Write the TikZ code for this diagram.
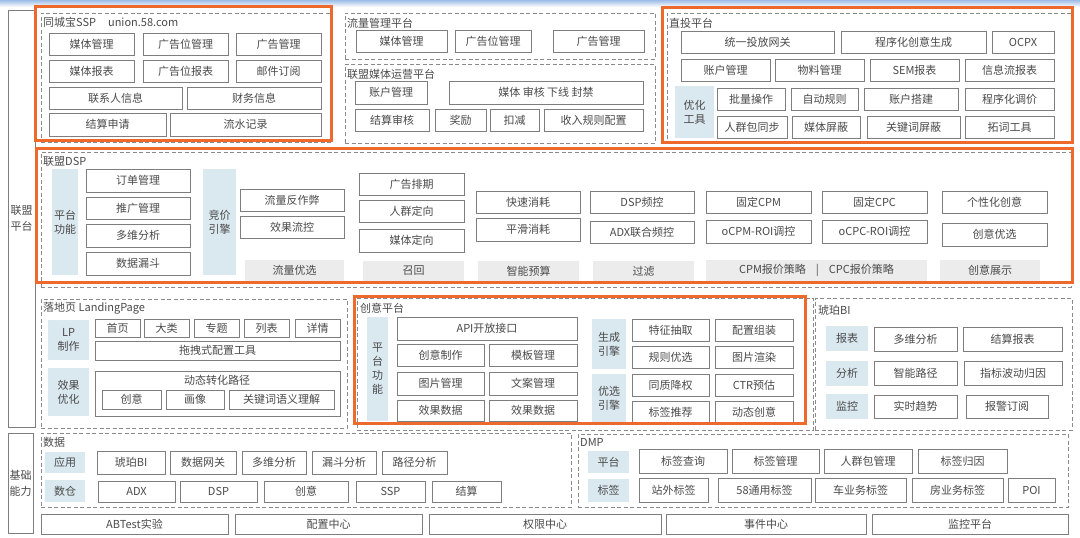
\documentclass[tikz,border=0pt]{standalone}
\usepackage{fontspec}
\setmainfont{Noto Sans CJK SC}
\definecolor{txt}{HTML}{4A4A4A}
\definecolor{boxgray}{HTML}{7E7E7E}
\definecolor{dgray}{HTML}{8A8A8A}
\definecolor{lblue}{HTML}{DAE8EF}
\definecolor{lgray}{HTML}{ECECEC}
\definecolor{orng}{HTML}{EE6A2C}
\definecolor{topblue}{HTML}{9DBDE6}
\newcommand\mk[7]{\node[#1, minimum width={#5pt-#3pt}, minimum height={#6pt-#4pt}] (#2) at ({(#3+#5)/2},{(#4+#6)/2}) {#7};}
\newcommand\ttl[4]{\node[ttlsty] (#1) at (#2,#3) {#4};}
\begin{document}
\begin{tikzpicture}[x=1pt,y=-1pt,
  box/.style={draw=boxgray, line width=0.9pt, fill=white, inner sep=0pt, outer sep=0pt, font=\fontsize{11}{14}\selectfont, text=txt, align=center},
  blue/.style={fill=lblue, inner sep=0pt, outer sep=0pt, font=\fontsize{11}{14}\selectfont, text=txt, align=center},
  gray/.style={fill=lgray, inner sep=0pt, outer sep=0pt, font=\fontsize{11}{14}\selectfont, text=txt, align=center},
  dbox/.style={draw=dgray, line width=0.9pt, dash pattern=on 4pt off 2.5pt, inner sep=0pt, outer sep=0pt},
  obox/.style={draw=orng, line width=3pt, inner sep=0pt, outer sep=0pt},
  frame/.style={draw=boxgray, line width=0.9pt, inner sep=0pt, outer sep=0pt, font=\fontsize{11}{16}\selectfont, text=txt, align=center},
  ttlsty/.style={anchor=west, inner sep=0pt, font=\fontsize{11}{13}\selectfont, text=txt},
  plain/.style={inner sep=0pt, font=\fontsize{11}{13}\selectfont, text=txt}]
\useasboundingbox (0,0) rectangle (1080,538);
\fill[white] (0,0) rectangle (1080,538);
\shade[top color=topblue, bottom color=white] (0,0) rectangle (1080,7);

% left frames
\mk{frame}{lm}{8}{10}{35}{427}{联盟\\平台}
\mk{frame}{jc}{8}{433}{33}{533}{基础\\能力}

% ===== SSP =====
\mk{dbox}{dssp}{41}{13}{332}{142}{}
\ttl{tssp}{43}{22}{同城宝SSP\hspace{12pt}union.58.com}
\mk{box}{s1}{49}{33}{134}{55}{媒体管理}
\mk{box}{s2}{143}{33}{228}{55}{广告位管理}
\mk{box}{s3}{236}{33}{321}{55}{广告管理}
\mk{box}{s4}{49}{60}{134}{82}{媒体报表}
\mk{box}{s5}{143}{60}{228}{82}{广告位报表}
\mk{box}{s6}{236}{60}{321}{82}{邮件订阅}
\mk{box}{s7}{49}{87}{182}{109}{联系人信息}
\mk{box}{s8}{187}{87}{321}{109}{财务信息}
\mk{box}{s9}{49}{113}{166}{136}{结算申请}
\mk{box}{s10}{170}{113}{321}{136}{流水记录}

% ===== 流量管理平台 =====
\mk{dbox}{dll}{345}{13}{655}{59}{}
\ttl{tll}{347}{23}{流量管理平台}
\mk{box}{ll1}{356}{30}{447}{52}{媒体管理}
\mk{box}{ll2}{455}{30}{531}{52}{广告位管理}
\mk{box}{ll3}{553}{30}{644}{52}{广告管理}

% ===== 联盟媒体运营平台 =====
\mk{dbox}{dyy}{345}{64}{655}{143}{}
\ttl{tyy}{347}{74}{联盟媒体运营平台}
\mk{box}{yy1}{355}{81}{427}{104}{账户管理}
\mk{box}{yy2}{449}{81}{643}{104}{媒体 审核 下线 封禁}
\mk{box}{yy3}{355}{109}{429}{131}{结算审核}
\mk{box}{yy4}{435}{109}{486}{131}{奖励}
\mk{box}{yy5}{490}{109}{539}{131}{扣减}
\mk{box}{yy6}{544}{109}{643}{131}{收入规则配置}

% ===== 直投平台 =====
\mk{dbox}{dzt}{667}{13}{1071}{142}{}
\ttl{tzt}{669}{23}{直投平台}
\mk{box}{z1}{681}{31}{834}{53}{统一投放网关}
\mk{box}{z2}{841}{31}{986}{53}{程序化创意生成}
\mk{box}{z3}{992}{31}{1054}{53}{OCPX}
\mk{box}{z4}{681}{59}{770}{81}{账户管理}
\mk{box}{z5}{775}{59}{864}{81}{物料管理}
\mk{box}{z6}{870}{59}{959}{81}{SEM报表}
\mk{box}{z7}{965}{59}{1054}{81}{信息流报表}
\mk{blue}{zb}{675}{86}{714}{138}{优化\\工具}
\mk{box}{z8}{717}{88}{785}{110}{批量操作}
\mk{box}{z9}{791}{88}{858}{110}{自动规则}
\mk{box}{z10}{864}{88}{958}{110}{账户搭建}
\mk{box}{z11}{965}{88}{1054}{110}{程序化调价}
\mk{box}{z12}{717}{116}{787}{138}{人群包同步}
\mk{box}{z13}{792}{116}{860}{138}{媒体屏蔽}
\mk{box}{z14}{867}{116}{960}{138}{关键词屏蔽}
\mk{box}{z15}{965}{116}{1054}{138}{拓词工具}

% ===== 联盟DSP =====
\mk{dbox}{ddsp}{41}{152}{1071}{287}{}
\ttl{tdsp}{43}{161}{联盟DSP}
\mk{blue}{db1}{52}{169}{78}{275}{平台\\功能}
\mk{box}{d1}{86}{169}{190}{192}{订单管理}
\mk{box}{d2}{86}{197}{190}{219}{推广管理}
\mk{box}{d3}{86}{224}{190}{247}{多维分析}
\mk{box}{d4}{86}{252}{190}{275}{数据漏斗}
\mk{blue}{db2}{203}{169}{236}{275}{竞价\\引擎}
\mk{box}{d5}{240}{189}{344}{211}{流量反作弊}
\mk{box}{d6}{240}{216}{344}{238}{效果流控}
\mk{gray}{g1}{245}{260}{344}{281}{流量优选}
\mk{box}{d7}{359}{173}{464}{195}{广告排期}
\mk{box}{d8}{359}{200}{464}{222}{人群定向}
\mk{box}{d9}{359}{229}{464}{252}{媒体定向}
\mk{gray}{g2}{363}{261}{464}{281}{召回}
\mk{box}{d10}{476}{191}{580}{213}{快速消耗}
\mk{box}{d11}{476}{218}{580}{241}{平滑消耗}
\mk{gray}{g3}{478}{261}{579}{281}{智能预算}
\mk{box}{d12}{590}{191}{694}{213}{DSP频控}
\mk{box}{d13}{590}{221}{694}{243}{ADX联合频控}
\mk{gray}{g4}{593}{261}{694}{281}{过滤}
\mk{box}{d14}{706}{191}{811}{213}{固定CPM}
\mk{box}{d15}{706}{220}{811}{243}{oCPM-ROI调控}
\mk{box}{d16}{822}{191}{927}{213}{固定CPC}
\mk{box}{d17}{822}{220}{927}{243}{oCPC-ROI调控}
\mk{gray}{g5}{706}{260}{927}{281}{CPM报价策略\hspace{10pt}|\hspace{10pt}CPC报价策略}
\mk{box}{d18}{942}{191}{1047}{213}{个性化创意}
\mk{box}{d19}{942}{223}{1047}{246}{创意优选}
\mk{gray}{g6}{940}{260}{1040}{281}{创意展示}

% ===== 落地页 =====
\mk{dbox}{dlp}{41}{299}{347}{428}{}
\ttl{tlp}{43}{308}{落地页 LandingPage}
\mk{blue}{lb1}{48}{320}{89}{360}{LP\\制作}
\mk{box}{l1}{95}{319}{140}{337}{首页}
\mk{box}{l2}{144}{319}{189}{337}{大类}
\mk{box}{l3}{194}{319}{239}{337}{专题}
\mk{box}{l4}{244}{319}{289}{337}{列表}
\mk{box}{l5}{295}{319}{340}{337}{详情}
\mk{box}{l6}{95}{341}{340}{360}{拖拽式配置工具}
\mk{blue}{lb2}{48}{368}{89}{416}{效果\\优化}
\mk{box}{l7}{95}{371}{340}{416}{}
\node[plain] (l7t) at (217,380) {动态转化路径};
\mk{box}{l8}{102}{390}{161}{409}{创意}
\mk{box}{l9}{166}{390}{224}{409}{画像}
\mk{box}{l10}{229}{390}{334}{409}{关键词语义理解}

% ===== 创意平台 =====
\mk{dbox}{dcy}{357}{298}{813}{430}{}
\ttl{tcy}{360}{308}{创意平台}
\mk{blue}{cb1}{367}{317}{388}{421}{平\\台\\功\\能}
\mk{box}{c1}{397}{317}{577}{340}{API开放接口}
\mk{box}{c2}{397}{344}{484}{366}{创意制作}
\mk{box}{c3}{489}{344}{577}{366}{模板管理}
\mk{box}{c4}{397}{372}{484}{395}{图片管理}
\mk{box}{c5}{489}{372}{577}{395}{文案管理}
\mk{box}{c6}{397}{400}{484}{421}{效果数据}
\mk{box}{c7}{489}{400}{577}{421}{效果数据}
\mk{blue}{cb2}{592}{319}{626}{369}{生成\\引擎}
\mk{blue}{cb3}{592}{374}{626}{423}{优选\\引擎}
\mk{box}{c8}{632}{319}{709}{341}{特征抽取}
\mk{box}{c9}{715}{319}{793}{341}{配置组装}
\mk{box}{c10}{632}{346}{709}{368}{规则优选}
\mk{box}{c11}{715}{346}{793}{368}{图片渲染}
\mk{box}{c12}{632}{374}{709}{396}{同质降权}
\mk{box}{c13}{715}{374}{793}{396}{CTR预估}
\mk{box}{c14}{632}{401}{709}{424}{标签推荐}
\mk{box}{c15}{715}{401}{793}{424}{动态创意}

% ===== 琥珀BI =====
\mk{dbox}{dbi}{815}{298}{1072}{430}{}
\ttl{tbi}{818}{310}{琥珀BI}
\mk{blue}{bb1}{826}{326}{868}{351}{报表}
\mk{box}{b1}{874}{327}{957}{351}{多维分析}
\mk{box}{b2}{963}{327}{1062}{351}{结算报表}
\mk{blue}{bb2}{826}{361}{868}{386}{分析}
\mk{box}{b3}{874}{361}{957}{385}{智能路径}
\mk{box}{b4}{964}{361}{1062}{385}{指标波动归因}
\mk{blue}{bb3}{826}{394}{868}{419}{监控}
\mk{box}{b5}{874}{395}{957}{418}{实时趋势}
\mk{box}{b6}{966}{395}{1048}{418}{报警订阅}

% ===== 数据 =====
\mk{dbox}{dsj}{41}{433}{571}{507}{}
\ttl{tsj}{43}{442}{数据}
\mk{blue}{jb1}{45}{452}{85}{473}{应用}
\mk{box}{j1}{97}{451}{165}{474}{琥珀BI}
\mk{box}{j2}{170}{451}{236}{474}{数据网关}
\mk{box}{j3}{242}{451}{306}{474}{多维分析}
\mk{box}{j4}{312}{451}{376}{474}{漏斗分析}
\mk{box}{j5}{382}{451}{447}{474}{路径分析}
\mk{blue}{jb2}{45}{480}{85}{502}{数仓}
\mk{box}{j6}{98}{481}{175}{502}{ADX}
\mk{box}{j7}{180}{481}{257}{502}{DSP}
\mk{box}{j8}{264}{481}{348}{502}{创意}
\mk{box}{j9}{356}{481}{425}{502}{SSP}
\mk{box}{j10}{432}{481}{501}{502}{结算}

% ===== DMP =====
\mk{dbox}{ddmp}{578}{434}{1068}{507}{}
\ttl{tdmp}{580}{442}{DMP}
\mk{blue}{mb1}{588}{451}{629}{473}{平台}
\mk{box}{m1}{639}{449}{727}{473}{标签查询}
\mk{box}{m2}{732}{449}{819}{473}{标签管理}
\mk{box}{m3}{824}{449}{912}{473}{人群包管理}
\mk{box}{m4}{918}{449}{1007}{473}{标签归因}
\mk{blue}{mb2}{588}{479}{629}{502}{标签}
\mk{box}{m5}{639}{478}{708}{502}{站外标签}
\mk{box}{m6}{718}{478}{811}{502}{58通用标签}
\mk{box}{m7}{815}{478}{906}{502}{车业务标签}
\mk{box}{m8}{912}{478}{1003}{502}{房业务标签}
\mk{box}{m9}{1008}{478}{1055}{502}{POI}

% ===== bottom row =====
\mk{box}{f1}{41}{514}{228}{534}{ABTest实验}
\mk{box}{f2}{235}{514}{422}{534}{配置中心}
\mk{box}{f3}{429}{514}{661}{534}{权限中心}
\mk{box}{f4}{666}{514}{866}{534}{事件中心}
\mk{box}{f5}{872}{514}{1068}{534}{监控平台}

% ===== orange highlights =====
\mk{obox}{ossp}{35}{6}{331}{140}{}
\mk{obox}{ozt}{662}{7}{1072}{142}{}
\mk{obox}{odsp}{36}{148}{1072}{282}{}
\mk{obox}{ocy}{354}{296}{805}{423}{}
\end{tikzpicture}
\end{document}
